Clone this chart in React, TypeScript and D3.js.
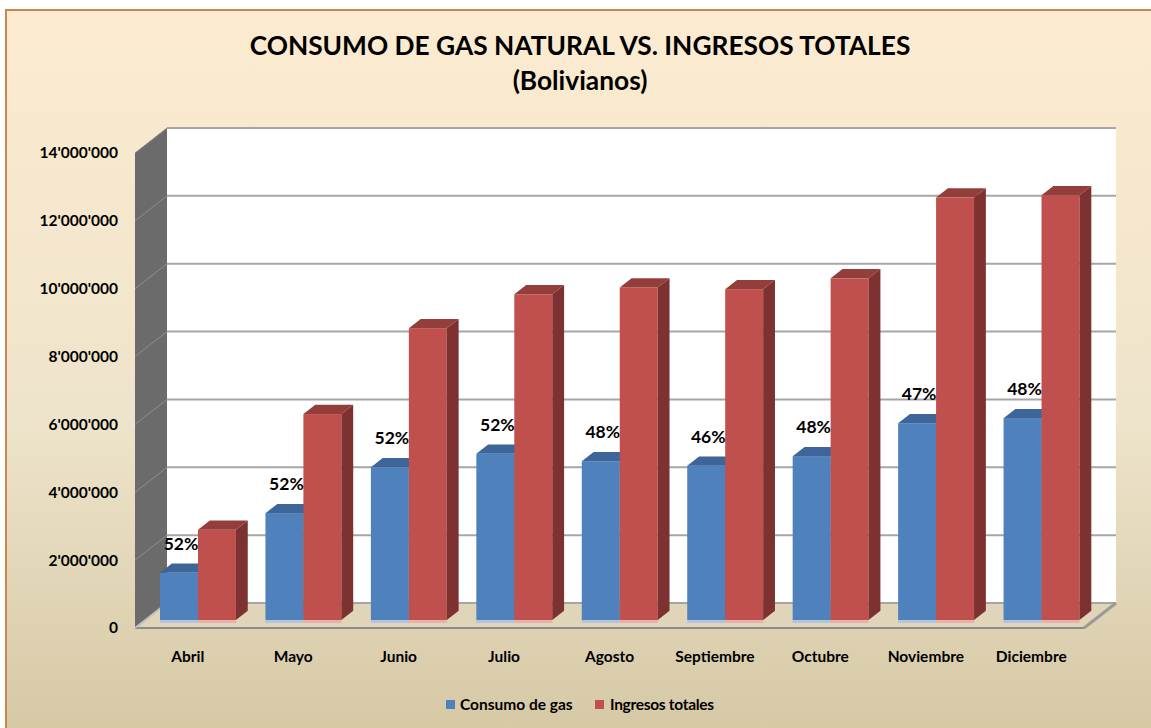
import React from "react";
import * as d3 from "d3";

const categories = ["Abril", "Mayo", "Junio", "Julio", "Agosto", "Septiembre", "Octubre", "Noviembre", "Diciembre"];
const consumoGas = [1390000, 3150000, 4500000, 4900000, 4680000, 4550000, 4830000, 5800000, 5950000];
const ingresosTotales = [2660000, 6070000, 8600000, 9600000, 9800000, 9750000, 10070000, 12450000, 12520000];
const pctLabels = ["52%", "52%", "52%", "52%", "48%", "46%", "48%", "47%", "48%"];
const yTicks = [0, 2000000, 4000000, 6000000, 8000000, 10000000, 12000000, 14000000];
const seriesNames = ["Consumo de gas", "Ingresos totales"];
const titleLines = ["CONSUMO DE GAS NATURAL VS. INGRESOS TOTALES", "(Bolivianos)"];

const W = 1151;
const H = 728;
const FONT = "Lato, 'Open Sans', sans-serif";

// 3D geometry
const frontLeft = 135;
const frontRight = 1084;
const depthDX = 32;
const depthDY = -25;
const barT0 = 0.32;
const barDepth = 0.37;

const colors = {
  blue: { front: "#4F81BD", side: "#3A6090", top: "#3E659A", glow: "#A8C0E2" },
  red: { front: "#C0504D", side: "#7D3231", top: "#943E3B", glow: "#E7A9A8" },
};

export default function App() {
  const y = d3.scaleLinear().domain([0, 14000000]).range([628, 153]);
  const x = d3
    .scaleBand<string>()
    .domain(categories)
    .range([frontLeft, frontRight])
    .paddingInner(0.28)
    .paddingOuter(0.14);
  const xs = d3.scaleBand<string>().domain(seriesNames).range([0, x.bandwidth()]).padding(0);
  const step = (frontRight - frontLeft) / categories.length;

  const fmt = (v: number) => d3.format(",")(v).replace(/,/g, "'");

  const off = (t: number) => [depthDX * t, depthDY * t];
  const [bx0, by0] = off(barT0);
  const [bdx, bdy] = off(barDepth);

  const backY = (v: number) => y(v) + depthDY;
  const backL = frontLeft + depthDX;
  const backR = frontRight + depthDX;

  const bar = (cat: string, s: string, v: number, c: typeof colors.blue, key: string) => {
    const xl = (x(cat) as number) + (xs(s) as number) + bx0;
    const w = xs.bandwidth();
    const yt = y(v) + by0;
    const yb = y(0) + by0;
    const pt = (a: number, b: number) => `${a},${b}`;
    return (
      <g key={key}>
        <rect x={xl} y={yb} width={w} height={3} fill={c.glow} opacity={0.8} />
        <rect x={xl} y={yt} width={w} height={yb - yt} fill={c.front} />
        <polygon
          points={[pt(xl, yt), pt(xl + w, yt), pt(xl + w + bdx, yt + bdy), pt(xl + bdx, yt + bdy)].join(" ")}
          fill={c.top}
        />
        <polygon
          points={[pt(xl + w, yt), pt(xl + w + bdx, yt + bdy), pt(xl + w + bdx, yb + bdy), pt(xl + w, yb)].join(" ")}
          fill={c.side}
        />
      </g>
    );
  };

  return (
    <svg width={W} height={H} style={{ position: "absolute", left: 0, top: 0, display: "block" }} fontFamily={FONT}>
      <defs>
        <linearGradient id="bg" x1="0" y1="0" x2="0" y2="1">
          <stop offset="0%" stopColor="#FCEBD0" />
          <stop offset="55%" stopColor="#EEE4CB" />
          <stop offset="100%" stopColor="#D4C6A2" />
        </linearGradient>
      </defs>
      <rect x={0} y={0} width={W} height={H} fill="#FFFFFF" />
      <rect x={6} y={10} width={W + 20} height={H + 20} fill="url(#bg)" stroke="#C9874F" strokeWidth={2} />

      {/* title */}
      <text x={580} y={55} textAnchor="middle" fontSize={26.3} fontWeight="bold" fill="#000">
        {titleLines[0]}
      </text>
      <text x={580} y={90} textAnchor="middle" fontSize={26.3} fontWeight="bold" fill="#000">
        {titleLines[1]}
      </text>

      {/* back wall */}
      <polygon
        points={`${backL},${backY(14000000)} ${backR},${backY(14000000)} ${backR},${backY(0)} ${backL},${backY(0)}`}
        fill="#FFFFFF"
      />
      {/* side wall */}
      <polygon
        points={`${frontLeft},${y(14000000)} ${backL},${backY(14000000)} ${backL},${backY(0)} ${frontLeft},${y(0)}`}
        fill="#6B6B6B"
      />
      {/* floor */}
      <polygon
        points={`${frontLeft},${y(0)} ${frontRight},${y(0)} ${backR},${backY(0)} ${backL},${backY(0)}`}
        fill="#E0D5B8"
      />
      {/* gridlines */}
      {yTicks.map((t) => (
        <g key={"g" + t}>
          {t > 0 && (
            <line x1={backL} x2={backR} y1={backY(t)} y2={backY(t)} stroke="#A6A6A6" strokeWidth={2} />
          )}
          {t > 0 && (
            <line x1={frontLeft} x2={backL} y1={y(t)} y2={backY(t)} stroke="#8E8E8E" strokeWidth={1} />
          )}
          <text x={118} y={y(t)} dy="0.35em" textAnchor="end" fontSize={15.5} fontWeight="bold" fill="#000">
            {fmt(t)}
          </text>
        </g>
      ))}
      <line x1={backL} x2={backR} y1={backY(0)} y2={backY(0)} stroke="#A6A6A6" strokeWidth={2} />
      <line x1={frontLeft} x2={frontRight} y1={y(0)} y2={y(0)} stroke="#8A8A8A" strokeWidth={2} />
      <line x1={frontRight} x2={backR} y1={y(0)} y2={backY(0)} stroke="#9A9A9A" strokeWidth={3} />
      <line x1={frontLeft} x2={backL} y1={y(0)} y2={backY(0)} stroke="#BDBDBD" strokeWidth={2} />

      {/* bars */}
      {categories.map((c, i) => (
        <g key={c}>
          {bar(c, seriesNames[0], consumoGas[i], colors.blue, c + "b")}
          {bar(c, seriesNames[1], ingresosTotales[i], colors.red, c + "r")}
        </g>
      ))}

      {/* percent labels */}
      {categories.map((c, i) => {
        const xl = (x(c) as number) + (xs(seriesNames[0]) as number) + bx0;
        const cx = xl + xs.bandwidth() / 2 + 2;
        const cy = y(consumoGas[i]) + by0 - 29;
        return (
          <text key={"p" + c} x={cx} y={cy} dy="0.35em" textAnchor="middle" fontSize={17.5} fontWeight="bold" fill="#000">
            {pctLabels[i]}
          </text>
        );
      })}

      {/* category labels */}
      {categories.map((c) => (
        <text
          key={"c" + c}
          x={(x(c) as number) - (step - x.bandwidth()) / 2 + step / 2}
          y={657}
          dy="0.35em"
          textAnchor="middle"
          fontSize={15.5}
          fontWeight="bold"
          fill="#000"
        >
          {c}
        </text>
      ))}

      {/* legend */}
      <rect x={446} y={700} width={9} height={9} fill={colors.blue.front} />
      <text x={460} y={704.5} dy="0.35em" fontSize={15.5} fontWeight="bold" fill="#000">
        {seriesNames[0]}
      </text>
      <rect x={595} y={700} width={9} height={9} fill={colors.red.front} />
      <text x={610} y={704.5} dy="0.35em" fontSize={15.5} fontWeight="bold" fill="#000" letterSpacing={-0.3}>
        {seriesNames[1]}
      </text>
    </svg>
  );
}
